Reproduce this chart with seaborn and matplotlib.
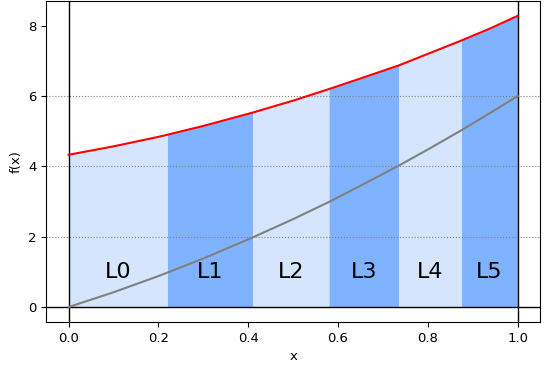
import numpy as np
import pandas as pd
import matplotlib
matplotlib.use("Agg")
import matplotlib.pyplot as plt
import seaborn as sns

# values
x_pts = [0.0, 0.1, 0.2, 0.22, 0.3, 0.41, 0.5, 0.58, 0.65, 0.735, 0.8, 0.875, 0.94, 1.0]
f_pts = [4.33, 4.57, 4.84, 4.90, 5.15, 5.53, 5.87, 6.20, 6.50, 6.87, 7.20, 7.58, 7.93, 8.28]
g_pts = [0.0, 0.42, 0.88, 0.98, 1.38, 1.98, 2.50, 2.99, 3.45, 4.02, 4.48, 5.03, 5.53, 6.0]

edges = [0.0, 0.22, 0.41, 0.58, 0.735, 0.875, 1.0]
labels = ["L0", "L1", "L2", "L3", "L4", "L5"]
band_colors = ["#d5e5fd", "#80b3ff"]

df = pd.DataFrame({"x": x_pts, "f": f_pts, "g": g_pts})

fig, ax = plt.subplots(figsize=(5.5, 3.72), dpi=100)
fig.subplots_adjust(left=0.084, right=0.982, top=0.997, bottom=0.134)

x = df["x"].to_numpy()
f = df["f"].to_numpy()
for i, lab in enumerate(labels):
    a, b = edges[i], edges[i + 1]
    m = (x >= a - 1e-9) & (x <= b + 1e-9)
    ax.fill_between(x[m], 0, f[m], color=band_colors[i % 2], lw=0)
    ax.text((a + b) / 2, 1.0, lab, fontsize=16, ha="center", va="center")

for yv in [2, 4, 6]:
    ax.axhline(yv, color="gray", ls=":", lw=0.8)
ax.axhline(0, color="black", lw=1)
ax.axvline(0, color="black", lw=1)
ax.axvline(1, color="black", lw=1)

sns.lineplot(data=df, x="x", y="g", color="gray", lw=1.5, ax=ax, sort=False)
sns.lineplot(data=df, x="x", y="f", color="red", lw=1.5, ax=ax, sort=False)

ax.set_xlim(-0.05, 1.05)
ax.set_ylim(-0.43, 8.7)
ax.set_xticks([0, 0.2, 0.4, 0.6, 0.8, 1.0])
ax.set_yticks([0, 2, 4, 6, 8])
ax.tick_params(labelsize=9.5)
ax.set_xlabel("x", fontsize=9.5)
ax.set_ylabel("f(x)", fontsize=9.5)

fig.savefig("out.png", dpi=100)
